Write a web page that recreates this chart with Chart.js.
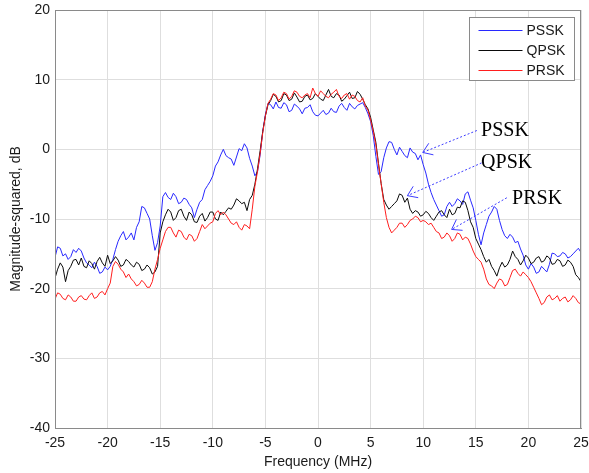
<!DOCTYPE html>
<html>
<head>
<meta charset="utf-8">
<script src="https://cdn.jsdelivr.net/npm/chart.js@4"></script>
<style>
  html, body { margin: 0; padding: 0; background: #fff; }
  #spectrumChart { display: block; }
</style>
</head>
<body>
<canvas id="spectrumChart" width="589" height="473"></canvas>
<script>
// frequency axis, MHz (0.25 MHz bins)
const freqMHz = [
  -25, -24.75, -24.5, -24.25, -24, -23.75, -23.5, -23.25,
  -23, -22.75, -22.5, -22.25, -22, -21.75, -21.5, -21.25,
  -21, -20.75, -20.5, -20.25, -20, -19.75, -19.5, -19.25,
  -19, -18.75, -18.5, -18.25, -18, -17.75, -17.5, -17.25,
  -17, -16.75, -16.5, -16.25, -16, -15.75, -15.5, -15.25,
  -15, -14.75, -14.5, -14.25, -14, -13.75, -13.5, -13.25,
  -13, -12.75, -12.5, -12.25, -12, -11.75, -11.5, -11.25,
  -11, -10.75, -10.5, -10.25, -10, -9.75, -9.5, -9.25,
  -9, -8.75, -8.5, -8.25, -8, -7.75, -7.5, -7.25,
  -7, -6.75, -6.5, -6.25, -6, -5.75, -5.5, -5.25,
  -5, -4.75, -4.5, -4.25, -4, -3.75, -3.5, -3.25,
  -3, -2.75, -2.5, -2.25, -2, -1.75, -1.5, -1.25,
  -1, -0.75, -0.5, -0.25, 0, 0.25, 0.5, 0.75,
  1, 1.25, 1.5, 1.75, 2, 2.25, 2.5, 2.75,
  3, 3.25, 3.5, 3.75, 4, 4.25, 4.5, 4.75,
  5, 5.25, 5.5, 5.75, 6, 6.25, 6.5, 6.75,
  7, 7.25, 7.5, 7.75, 8, 8.25, 8.5, 8.75,
  9, 9.25, 9.5, 9.75, 10, 10.25, 10.5, 10.75,
  11, 11.25, 11.5, 11.75, 12, 12.25, 12.5, 12.75,
  13, 13.25, 13.5, 13.75, 14, 14.25, 14.5, 14.75,
  15, 15.25, 15.5, 15.75, 16, 16.25, 16.5, 16.75,
  17, 17.25, 17.5, 17.75, 18, 18.25, 18.5, 18.75,
  19, 19.25, 19.5, 19.75, 20, 20.25, 20.5, 20.75,
  21, 21.25, 21.5, 21.75, 22, 22.25, 22.5, 22.75,
  23, 23.25, 23.5, 23.75, 24, 24.25, 24.5, 24.75,
  25,
];

// magnitude-squared, dB
const psskDb = [
  -15.5, -14.0, -14.2, -15.3, -15.0, -15.8, -15.4, -14.4,
  -14.8, -14.2, -14.6, -15.6, -16.3, -16.6, -17.0, -16.2,
  -16.8, -17.8, -17.6, -16.9, -17.3, -16.8, -15.8, -14.4,
  -13.2, -12.4, -11.8, -13.0, -12.6, -12.0, -13.0, -11.2,
  -10.4, -8.2, -8.4, -9.2, -10.0, -12.4, -14.5, -13.4,
  -11.0, -6.8, -6.2, -6.9, -7.2, -6.3, -6.8, -7.8,
  -7.6, -7.0, -7.2, -7.9, -8.4, -9.8, -8.6, -7.6,
  -7.2, -5.8, -5.2, -4.6, -3.8, -2.4, -1.8, -0.8,
  0.0, -0.9, -1.2, -1.4, -2.3, -1.1, 0.1, -0.2,
  0.8, 0.2, -1.3, -2.4, -3.8, -3.2, -0.8, 2.6,
  5.0, 6.6, 6.4, 5.8, 6.8, 6.0, 5.9, 6.7,
  6.4, 5.4, 5.6, 6.5, 6.2, 5.8, 5.1, 5.9,
  6.0, 6.4, 5.4, 4.9, 4.8, 5.2, 5.6, 5.0,
  5.2, 5.9, 5.4, 5.3, 6.2, 6.6, 6.0, 5.6,
  6.6, 6.1, 5.8, 6.3, 6.5, 6.7, 6.0, 5.1,
  4.0, 2.0, -1.0, -3.6, -3.2, -1.2, 0.2, 1.1,
  1.0, 0.0, -0.8, 0.3, -0.3, -0.9, -1.2, 0.2,
  -0.4, -0.6, -1.5, -0.8, -2.2, -3.4, -5.0, -6.2,
  -7.2, -8.0, -8.8, -9.6, -9.4, -8.2, -7.6, -8.2,
  -7.8, -7.1, -7.4, -7.9, -6.4, -6.1, -7.3, -8.4,
  -10.2, -12.2, -13.7, -12.0, -10.8, -9.6, -9.0, -8.2,
  -8.6, -10.2, -11.5, -12.4, -12.8, -12.2, -12.6, -13.4,
  -13.2, -14.3, -15.2, -16.6, -17.2, -16.4, -16.9, -17.8,
  -17.6, -16.8, -17.2, -17.6, -16.5, -14.9, -15.0, -15.4,
  -15.3, -14.8, -15.0, -15.6, -15.4, -15.0, -14.6, -14.2,
  -14.8,
];

const qpskDb = [
  -18.5, -17.2, -16.3, -16.9, -19.0, -17.4, -16.8, -15.9,
  -15.8, -16.6, -15.6, -16.8, -17.0, -16.0, -16.4, -17.2,
  -16.1, -15.5, -16.3, -16.8, -15.2, -16.4, -16.0, -15.4,
  -15.9, -16.8, -16.6, -15.8, -16.1, -16.6, -16.9, -16.2,
  -16.5, -17.4, -17.2, -16.6, -17.0, -17.9, -17.6, -16.8,
  -12.0, -10.4, -9.4, -8.6, -9.0, -10.2, -9.8, -8.8,
  -8.6, -9.6, -10.2, -9.0, -9.4, -10.4, -10.5, -9.6,
  -9.2, -10.3, -9.8, -9.0, -9.0, -10.0, -10.2, -9.0,
  -9.4, -8.9, -8.4, -8.6, -8.0, -7.1, -7.4, -7.8,
  -7.6, -8.8, -7.2, -6.6, -5.0, -2.8, -0.2, 2.6,
  4.8, 6.4, 7.0, 7.9, 7.6, 6.8, 7.0, 8.0,
  7.8, 7.0, 7.2, 8.1, 7.5, 6.8, 6.9, 7.6,
  7.8, 7.1, 7.3, 8.0, 7.6, 7.2, 7.0, 7.8,
  8.6, 7.6, 7.4, 8.0, 7.8, 6.9, 7.2, 7.7,
  8.2, 7.3, 7.4, 8.3, 7.9, 7.2, 6.4, 5.8,
  4.6, 2.8, 1.0, -2.0, -4.9, -7.2, -8.0, -8.6,
  -8.2, -7.8, -7.4, -6.4, -6.6, -7.6, -7.0, -8.6,
  -9.2, -8.8, -9.0, -9.6, -9.4, -8.9, -9.2, -9.8,
  -10.2, -9.6, -9.0, -8.8, -9.4, -9.8, -8.6, -9.4,
  -9.2, -8.3, -8.4, -7.4, -7.6, -8.8, -10.4, -11.2,
  -12.8, -13.6, -14.4, -15.4, -16.2, -15.8, -16.8, -17.4,
  -18.2, -17.0, -16.2, -16.9, -16.6, -15.8, -14.6, -15.4,
  -15.8, -16.6, -16.0, -15.2, -15.6, -16.4, -16.2, -15.6,
  -15.4, -16.2, -16.0, -15.3, -15.6, -16.5, -16.4, -15.8,
  -16.0, -16.8, -16.6, -15.9, -16.2, -16.8, -18.0, -18.4,
  -19.0,
];

const prskDb = [
  -21.5, -20.6, -20.8, -21.4, -21.6, -20.9, -21.2, -21.8,
  -21.8, -21.2, -21.0, -21.5, -21.6, -21.0, -20.6, -21.4,
  -21.2, -20.6, -20.4, -20.9, -20.0, -19.2, -16.8, -16.1,
  -16.5, -17.2, -17.6, -18.4, -17.9, -18.6, -19.0, -19.6,
  -19.4, -18.8, -19.2, -19.8, -19.8, -19.0, -17.2, -15.8,
  -14.2, -13.0, -11.8, -11.2, -11.2, -12.0, -12.6, -11.6,
  -11.8, -12.6, -13.0, -12.2, -12.4, -13.2, -12.8, -11.8,
  -10.8, -11.4, -11.0, -10.6, -10.4, -9.2, -8.8, -9.4,
  -9.0, -9.4, -10.0, -10.6, -10.8, -10.4, -11.2, -11.6,
  -10.8, -11.0, -11.4, -8.6, -5.3, -3.2, -0.6, 2.4,
  4.8, 6.6, 7.2, 8.0, 7.8, 7.0, 7.4, 8.2,
  8.0, 7.2, 7.6, 8.4, 8.2, 7.6, 7.4, 7.8,
  8.0, 7.4, 8.8, 8.0, 7.6, 8.4, 8.0, 7.6,
  7.4, 7.9, 8.2, 8.6, 7.6, 7.3, 7.8, 8.0,
  7.2, 7.8, 7.6, 7.0, 6.8, 7.4, 6.2, 5.6,
  4.2, 2.6, 0.6, -2.2, -4.9, -7.6, -9.8, -11.2,
  -12.0, -11.6, -11.2, -10.6, -10.6, -11.2, -10.8, -10.2,
  -10.0, -9.6, -9.8, -10.4, -10.2, -10.4, -10.8, -10.6,
  -11.2, -11.8, -12.0, -12.8, -12.6, -12.0, -12.4, -13.2,
  -12.8, -12.0, -12.2, -13.0, -12.6, -12.8, -13.6, -14.6,
  -15.4, -15.8, -16.2, -17.2, -18.6, -19.4, -19.6, -20.0,
  -19.2, -18.6, -18.8, -19.6, -19.4, -18.4, -17.4, -17.2,
  -17.8, -18.2, -17.6, -18.0, -18.4, -19.0, -19.8, -20.6,
  -21.4, -22.3, -22.0, -21.2, -20.9, -21.6, -21.4, -21.0,
  -21.8, -21.4, -21.2, -21.9, -21.6, -21.0, -21.4, -22.0,
  -22.2,
];

const seriesNames = ['PSSK', 'QPSK', 'PRSK'];
const seriesColors = ['rgb(40, 40, 255)', 'rgb(10, 10, 10)', 'rgb(255, 30, 30)'];

// text callouts: label position and arrow tip, in data units
const noteLabels = ['PSSK', 'QPSK', 'PRSK'];
const noteTextX = [15.5, 15.5, 18.45];
const noteTextY = [1.95, -2.65, -7.8];
const noteTailX = [15.1, 15.55, 17.95];
const noteTailY = [2.7, -1.95, -6.95];
const noteTipX = [9.95, 8.5, 12.7];
const noteTipY = [-0.45, -6.65, -11.5];

const FONT = "'Liberation Sans', Arial, sans-serif";
Chart.defaults.font.family = FONT;
Chart.defaults.font.size = 14;
Chart.defaults.color = '#1a1a1a';

function toPoints(values) {
  return values.map((v, i) => ({ x: freqMHz[i], y: v }));
}

const frameAndLegend = {
  id: 'frameAndLegend',
  afterDraw(chart) {
    const { ctx, chartArea } = chart;
    const sx = chart.scales.x;
    const sy = chart.scales.y;
    ctx.save();

    // full frame around the plot
    ctx.strokeStyle = '#8a8a8a';
    ctx.lineWidth = 1;
    ctx.strokeRect(Math.round(chartArea.left) + 0.5, Math.round(chartArea.top) + 0.5,
      Math.round(chartArea.right - chartArea.left) - 1, Math.round(chartArea.bottom - chartArea.top));

    // callouts
    ctx.font = "20px 'Liberation Serif', 'Times New Roman', serif";
    ctx.fillStyle = '#000';
    ctx.textBaseline = 'alphabetic';
    noteLabels.forEach((label, i) => {
      ctx.fillText(label, sx.getPixelForValue(noteTextX[i]), sy.getPixelForValue(noteTextY[i]));
      const x0 = sx.getPixelForValue(noteTailX[i]);
      const y0 = sy.getPixelForValue(noteTailY[i]);
      const x1 = sx.getPixelForValue(noteTipX[i]);
      const y1 = sy.getPixelForValue(noteTipY[i]);
      ctx.strokeStyle = 'rgb(60, 60, 255)';
      ctx.lineWidth = 1;
      ctx.setLineDash([2, 2]);
      ctx.beginPath();
      ctx.moveTo(x0, y0);
      ctx.lineTo(x1, y1);
      ctx.stroke();
      ctx.setLineDash([]);
      const ang = Math.atan2(y0 - y1, x0 - x1);
      const len = 11;
      ctx.beginPath();
      ctx.moveTo(x1 + len * Math.cos(ang - 0.6), y1 + len * Math.sin(ang - 0.6));
      ctx.lineTo(x1, y1);
      ctx.lineTo(x1 + len * Math.cos(ang + 0.6), y1 + len * Math.sin(ang + 0.6));
      ctx.stroke();
    });

    // legend box
    const boxW = 105;
    const boxH = 63;
    const bx = Math.round(chartArea.right - 7 - boxW) + 0.5;
    const by = Math.round(chartArea.top + 7) + 0.5;
    ctx.fillStyle = '#fff';
    ctx.fillRect(bx, by, boxW, boxH);
    ctx.strokeStyle = '#8a8a8a';
    ctx.strokeRect(bx, by, boxW, boxH);
    ctx.font = '14px ' + FONT;
    ctx.textBaseline = 'middle';
    seriesNames.forEach((name, i) => {
      const ly = Math.round(by + 12 + i * 20) + 0.5;
      ctx.strokeStyle = seriesColors[i];
      ctx.beginPath();
      ctx.moveTo(bx + 9, ly);
      ctx.lineTo(bx + 53, ly);
      ctx.stroke();
      ctx.fillStyle = '#1a1a1a';
      ctx.fillText(name, bx + 57, ly + 1);
    });
    ctx.restore();
  },
};

new Chart(document.getElementById('spectrumChart'), {
  type: 'line',
  data: {
    datasets: [
      { label: seriesNames[0], data: toPoints(psskDb), borderColor: seriesColors[0], order: 2 },
      { label: seriesNames[1], data: toPoints(qpskDb), borderColor: seriesColors[1], order: 1 },
      { label: seriesNames[2], data: toPoints(prskDb), borderColor: seriesColors[2], order: 0 },
    ],
  },
  options: {
    responsive: false,
    animation: false,
    layout: { padding: { top: 10, right: 8, left: 0, bottom: 0 } },
    elements: {
      point: { radius: 0 },
      line: { borderWidth: 1, tension: 0 },
    },
    plugins: {
      legend: { display: false },
      tooltip: { enabled: false },
    },
    scales: {
      x: {
        type: 'linear',
        min: -25,
        max: 25,
        ticks: { stepSize: 5, padding: 7, maxRotation: 0 },
        grid: { color: '#dedede', drawTicks: false },
        border: { color: '#8a8a8a' },
        title: { display: true, text: 'Frequency (MHz)', padding: { top: 0, bottom: 2 } },
        afterFit(scale) {
          scale.height = 45;
          scale.paddingLeft = 0;
          scale.paddingRight = 0;
        },
      },
      y: {
        min: -40,
        max: 20,
        ticks: { stepSize: 10, padding: 5 },
        grid: { color: '#dedede', drawTicks: false },
        border: { color: '#8a8a8a' },
        title: { display: true, text: 'Magnitude-squared, dB', padding: { top: 8, bottom: 4 } },
        afterFit(scale) {
          scale.width = 55;
          scale.paddingTop = 0;
          scale.paddingBottom = 0;
        },
      },
    },
  },
  plugins: [frameAndLegend],
});
</script>
</body>
</html>
